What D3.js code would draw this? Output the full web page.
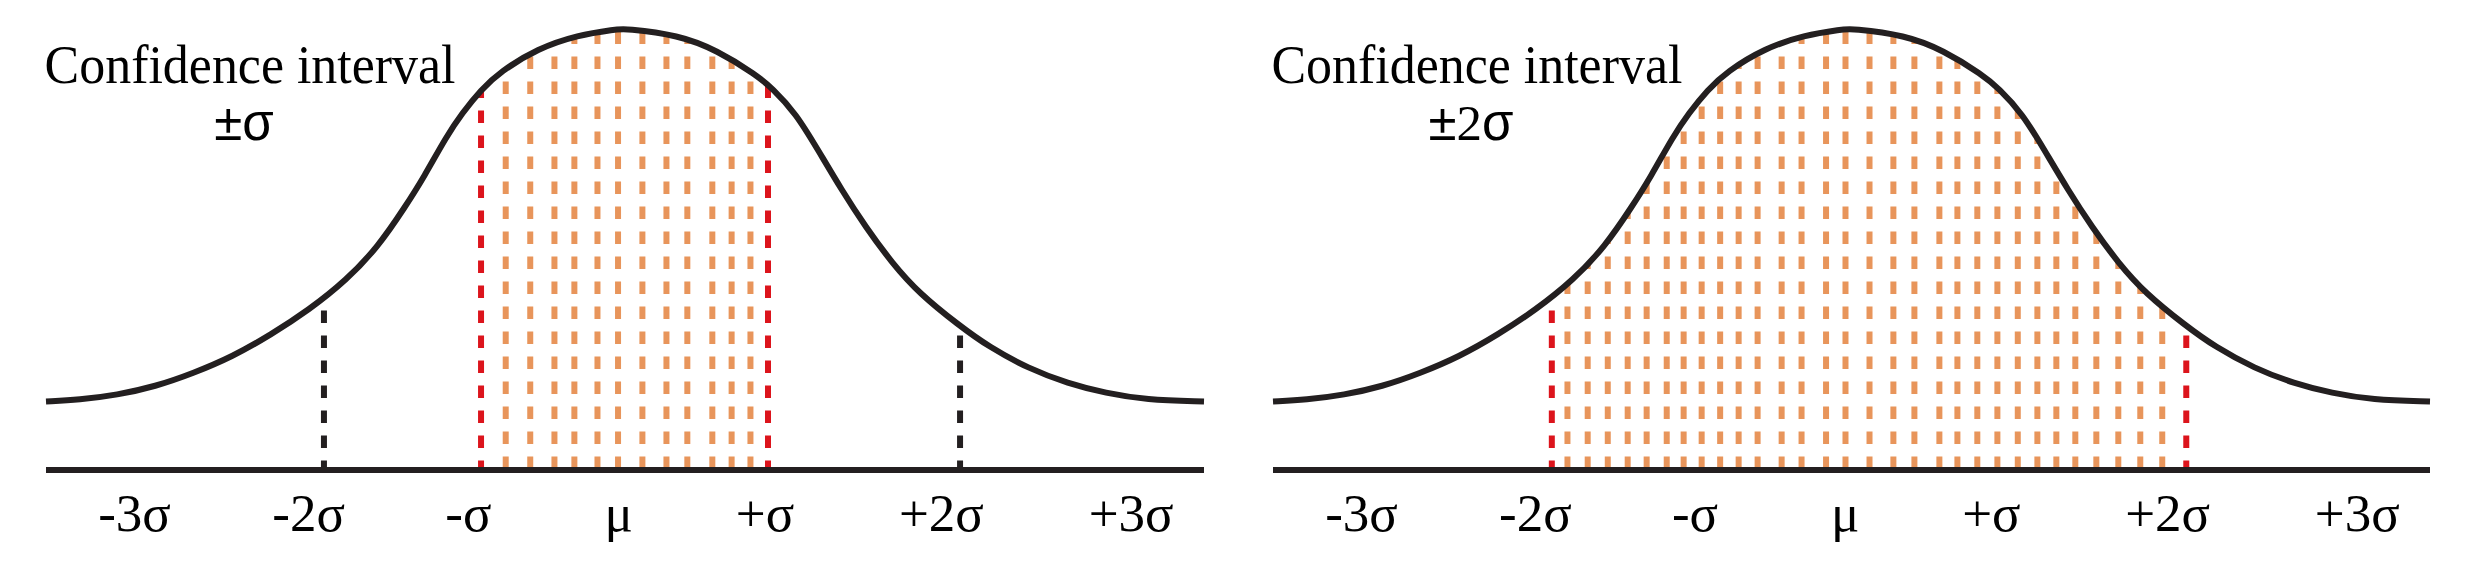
<!DOCTYPE html>
<html>
<head>
<meta charset="utf-8">
<script src="https://cdn.jsdelivr.net/npm/d3@7"></script>
<style>
  body { margin: 0; background: #ffffff; }
  svg { display: block; }
</style>
</head>
<body>
<div id="vis"></div>
<script>
// Frame
const FRAME_WIDTH = 2466;
const FRAME_HEIGHT = 565;

// Bell curve: x in sigma units, y as share of peak height
const CURVE_X = [-3.66, -3.45, -3.21, -2.97, -2.73, -2.48, -2.24, -2.00, -1.76, -1.56, -1.39, -1.27,
                 -1.13, -1.03, -0.91, -0.79, -0.55, -0.30, -0.06, 0, 0.34, 0.58, 0.83, 0.93, 1.08,
                 1.22, 1.37, 1.52, 1.69, 1.86, 2.11, 2.30, 2.55, 2.80, 3.04, 3.29, 3.66];
const CURVE_Y = [0.155, 0.159, 0.170, 0.189, 0.219, 0.257, 0.306, 0.362, 0.430, 0.506, 0.596, 0.664,
                 0.755, 0.808, 0.861, 0.902, 0.955, 0.985, 0.998, 1.0, 0.985, 0.951, 0.895, 0.865, 0.808,
                 0.725, 0.634, 0.551, 0.468, 0.400, 0.328, 0.279, 0.230, 0.196, 0.174, 0.159, 0.155];

// Axis labels and where they sit (sigma units)
const TICK_LABELS = ["-3σ", "-2σ", "-σ", "μ", "+σ", "+2σ", "+3σ"];
const TICK_POS = [-3.10, -2.00, -0.99, -0.04, 0.885, 2.00, 3.20];

// Orange hatch lines (sigma units)
const LEFT_FILL = [-0.754, -0.599, -0.446, -0.320, -0.174, -0.044, 0.110, 0.262, 0.394, 0.552, 0.674, 0.793];
const RIGHT_FILL = [-1.797, -1.669, -1.542, -1.416, -1.296, -1.169, -1.062, -0.948, -0.831, -0.714,
                    -0.594, -0.442, -0.316, -0.161, -0.038, 0.114, 0.265, 0.398, 0.556, 0.670,
                    0.796, 0.923, 1.052, 1.176, 1.296, 1.416, 1.549, 1.688, 1.827, 1.966];

// Interval bounds (red) and other marker lines (black)
const LEFT_RED = [-0.910, 0.904];
const LEFT_BLACK = [-1.903, 2.118];
const RIGHT_RED = [-1.896, 2.118];
const RIGHT_BLACK = [];

const TITLE = "Confidence interval";

const CURVE = CURVE_X.map((x, i) => ({ x: x, y: CURVE_Y[i] }));

const FRAME = d3.select("#vis")
    .append("svg")
    .attr("width", FRAME_WIDTH)
    .attr("height", FRAME_HEIGHT);

const BASE_Y = 470;
const PEAK_Y = 28.5;
const ORANGE = "#e8955b";
const RED = "#dc141c";
const INK = "#231f20";
const SERIF = "'Liberation Serif', 'Times New Roman', serif";
const SANS = "'Liberation Sans', Arial, sans-serif";

function make_panel(id, x0, x1, fill, red, black, sub) {

    const X_SCALE = d3.scaleLinear()
        .domain([-3.66, 3.66])
        .range([x0, x1]);

    const Y_SCALE = d3.scaleLinear()
        .domain([0, 1])
        .range([BASE_Y, PEAK_Y]);

    const g = FRAME.append("g");

    // clip region = area under the curve
    const area = d3.area()
        .x(d => X_SCALE(d.x))
        .y0(BASE_Y + 6)
        .y1(d => Y_SCALE(d.y))
        .curve(d3.curveBasis);

    g.append("clipPath")
        .attr("id", "under-" + id)
        .append("path")
        .attr("d", area(CURVE));

    const clipped = g.append("g").attr("clip-path", "url(#under-" + id + ")");

    // orange hatch
    clipped.selectAll(".fill")
        .data(fill)
        .enter()
        .append("line")
        .attr("x1", d => X_SCALE(d))
        .attr("x2", d => X_SCALE(d))
        .attr("y1", BASE_Y - 1)
        .attr("y2", 0)
        .attr("stroke", ORANGE)
        .attr("stroke-width", 6)
        .attr("stroke-dasharray", "12.5 12.5");

    // baseline
    g.append("line")
        .attr("x1", x0)
        .attr("x2", x1)
        .attr("y1", BASE_Y)
        .attr("y2", BASE_Y)
        .attr("stroke", INK)
        .attr("stroke-width", 6);

    const marks = red.map(d => ({ v: d, c: RED })).concat(black.map(d => ({ v: d, c: INK })));

    clipped.selectAll(".mark")
        .data(marks)
        .enter()
        .append("line")
        .attr("x1", d => X_SCALE(d.v))
        .attr("x2", d => X_SCALE(d.v))
        .attr("y1", BASE_Y + 3)
        .attr("y2", 0)
        .attr("stroke", d => d.c)
        .attr("stroke-width", 6)
        .attr("stroke-dasharray", "12.5 12.5");

    // the bell curve
    const line = d3.line()
        .x(d => X_SCALE(d.x))
        .y(d => Y_SCALE(d.y))
        .curve(d3.curveBasis);

    g.append("path")
        .attr("d", line(CURVE))
        .attr("fill", "none")
        .attr("stroke", INK)
        .attr("stroke-width", 6);

    // axis labels
    g.selectAll(".tick")
        .data(TICK_LABELS)
        .enter()
        .append("text")
        .attr("x", (d, i) => X_SCALE(TICK_POS[i]))
        .attr("y", 531)
        .attr("text-anchor", "middle")
        .attr("font-family", SERIF)
        .attr("font-size", "53px")
        .attr("fill", "#000")
        .text(d => d);

    // title
    const tx = X_SCALE(-2.37);
    g.append("text")
        .attr("x", tx)
        .attr("y", 83)
        .attr("text-anchor", "middle")
        .attr("font-family", SERIF)
        .attr("font-size", "54px")
        .attr("textLength", 411)
        .attr("lengthAdjust", "spacingAndGlyphs")
        .attr("fill", "#000")
        .text(TITLE);

    const s = g.append("text")
        .attr("x", tx - 6)
        .attr("y", 140)
        .attr("text-anchor", "middle")
        .attr("font-size", "51px")
        .attr("fill", "#000");

    sub.forEach(p => {
        s.append("tspan")
            .attr("font-family", p.serif ? SERIF : SANS)
            .text(p.t);
    });
}

make_panel("a", 46, 1204, LEFT_FILL, LEFT_RED, LEFT_BLACK,
    [{ t: "±" }, { t: "σ" }]);
make_panel("b", 1273, 2430, RIGHT_FILL, RIGHT_RED, RIGHT_BLACK,
    [{ t: "±" }, { t: "2", serif: true }, { t: "σ" }]);
</script>
</body>
</html>
